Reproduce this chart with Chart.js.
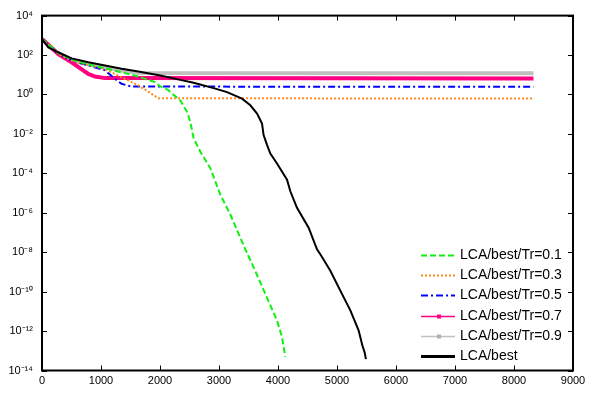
<!DOCTYPE html>
<html>
<head>
<meta charset="utf-8">
<script src="https://cdn.jsdelivr.net/npm/chart.js@4.4.1/dist/chart.umd.min.js"></script>
<style>
  html, body { margin: 0; padding: 0; background: #fff; }
  #wrap { width: 592px; height: 394px; }
</style>
</head>
<body>
<div id="wrap"><canvas id="myChart" width="592" height="394"></canvas></div>
<script>
// tick values
var xTicks = [0, 1000, 2000, 3000, 4000, 5000, 6000, 7000, 8000, 9000];
var yTickExps = [-14, -12, -10, -8, -6, -4, -2, 0, 2, 4];

// series labels
var labels = ['LCA/best/Tr=0.1', 'LCA/best/Tr=0.3', 'LCA/best/Tr=0.5', 'LCA/best/Tr=0.7', 'LCA/best/Tr=0.9', 'LCA/best'];

// iterations (x) and log10 of the error (y)
var tr01X = [0, 280, 502, 785, 1068, 1350, 1632, 1915, 2005, 2141, 2175, 2344, 2458, 2514, 2570, 2683, 2853, 3022, 3192, 3446, 3587, 3785, 3983, 4068, 4124];
var tr01Exp = [2.81, 2.10, 1.78, 1.52, 1.33, 1.12, 0.91, 0.63, 0.41, 0.22, 0.12, -0.30, -0.88, -1.39, -2.23, -2.90, -3.74, -5.08, -6.09, -7.85, -8.77, -10.11, -11.46, -12.30, -13.31];

var tr03X = [0, 280, 502, 785, 1068, 1344, 1632, 1853, 1971, 8330];
var tr03Exp = [2.81, 2.05, 1.72, 1.50, 1.28, 0.88, 0.46, 0.04, -0.19, -0.21];

var tr05X = [0, 280, 502, 785, 1068, 1237, 1349, 1519, 8330];
var tr05Exp = [2.81, 2.05, 1.72, 1.48, 1.22, 0.79, 0.54, 0.40, 0.39];

var tr07X = [0, 276, 502, 785, 898, 1068, 8330];
var tr07Exp = [2.81, 2.04, 1.63, 1.04, 0.91, 0.83, 0.81];

var tr09X = [0, 276, 502, 785, 1068, 1350, 1632, 8330];
var tr09Exp = [2.81, 2.08, 1.72, 1.52, 1.38, 1.22, 1.09, 1.08];

var bestX = [0, 107, 276, 502, 785, 1068, 1349, 1632, 2005, 2344, 2570, 2909, 3136, 3390, 3531, 3645, 3729, 3756, 3814, 3870, 3983, 4153, 4209, 4322, 4519, 4661, 4717, 4887, 5056, 5226, 5366, 5429, 5470, 5490];
var bestExp = [2.81, 2.39, 2.14, 1.83, 1.63, 1.47, 1.30, 1.17, 0.96, 0.74, 0.59, 0.32, 0.12, -0.21, -0.55, -0.97, -1.47, -2.06, -2.56, -3.00, -3.50, -4.32, -4.91, -5.75, -6.76, -7.85, -8.10, -8.94, -9.95, -10.95, -11.96, -12.72, -13.10, -13.42];

function pts(xs, es) {
    return xs.map(function (x, i) { return { x: x, y: Math.pow(10, es[i]) }; });
}

var sup = { '0': '\u2070', '1': '\u00b9', '2': '\u00b2', '3': '\u00b3', '4': '\u2074', '5': '\u2075', '6': '\u2076', '7': '\u2077', '8': '\u2078', '9': '\u2079', '-': '\u207b' };
function power(e) {
    return '10' + String(e).split('').map(function (c) { return sup[c]; }).join('');
}

Chart.defaults.font.family = '"Liberation Sans", Arial, sans-serif';
Chart.defaults.font.size = 11;
Chart.defaults.color = '#000';

// box with inward ticks, drawn from the chart's own scales
var boxTicks = {
    id: 'boxTicks',
    afterDatasetsDraw: function (chart) {
        var ctx = chart.ctx, a = chart.chartArea;
        var xs = chart.scales.x, ys = chart.scales.y;
        ctx.save();
        ctx.strokeStyle = '#000';
        ctx.lineWidth = 1;
        xTicks.forEach(function (t) {
            var px = Math.round(xs.getPixelForValue(t)) + 0.5;
            ctx.beginPath();
            ctx.moveTo(px, a.bottom); ctx.lineTo(px, a.bottom - 5);
            ctx.moveTo(px, a.top); ctx.lineTo(px, a.top + 5);
            ctx.stroke();
        });
        yTickExps.forEach(function (e) {
            var py = Math.round(ys.getPixelForValue(Math.pow(10, e))) + 0.5;
            ctx.beginPath();
            ctx.moveTo(a.left, py); ctx.lineTo(a.left + 5, py);
            ctx.moveTo(a.right, py); ctx.lineTo(a.right - 5, py);
            ctx.stroke();
        });
        ctx.lineWidth = 2;
        ctx.strokeRect(a.left, a.top, a.right - a.left, a.bottom - a.top);
        ctx.restore();
    }
};

// legend in the lower right corner, without a frame
var cornerLegend = {
    id: 'cornerLegend',
    afterDraw: function (chart) {
        var ctx = chart.ctx;
        var x0 = 421, x1 = 455, tx = 460, y0 = 255, dy = 20.2;
        ctx.save();
        ctx.font = '14px "Liberation Sans", Arial, sans-serif';
        ctx.textBaseline = 'middle';
        ctx.textAlign = 'left';
        chart.data.datasets.forEach(function (ds, i) {
            var y = Math.round(y0 + i * dy) + 0.5;
            ctx.strokeStyle = ds.borderColor;
            ctx.lineWidth = ds.legendWidth;
            ctx.setLineDash(ds.borderDash || []);
            ctx.beginPath();
            ctx.moveTo(x0, y); ctx.lineTo(x1, y);
            ctx.stroke();
            ctx.setLineDash([]);
            if (ds.legendMark) {
                ctx.fillStyle = ds.legendMark;
                ctx.fillRect(437, y - 2, 4, 4);
            }
            ctx.fillStyle = '#000';
            ctx.fillText(ds.label, tx, y);
        });
        ctx.restore();
    }
};

var ctx = document.getElementById('myChart').getContext('2d');
var chart = new Chart(ctx, {
    type: 'line',
    data: {
        datasets: [
            { label: labels[0], data: pts(tr01X, tr01Exp), borderColor: '#10f010', borderWidth: 2, borderDash: [6, 3], legendWidth: 2, order: 1 },
            { label: labels[1], data: pts(tr03X, tr03Exp), borderColor: '#ff8a1a', borderWidth: 2, borderDash: [2, 2], legendWidth: 2, order: 2 },
            { label: labels[2], data: pts(tr05X, tr05Exp), borderColor: '#0000ff', borderWidth: 2, borderDash: [7, 3, 2, 3], legendWidth: 2, order: 3 },
            { label: labels[3], data: pts(tr07X, tr07Exp), borderColor: '#ff0080', borderWidth: 4, legendWidth: 1.5, legendMark: '#ff0080', order: 4 },
            { label: labels[4], data: pts(tr09X, tr09Exp), borderColor: '#c0c0c0', borderWidth: 4, legendWidth: 1.5, legendMark: '#b0b0b0', order: 5 },
            { label: labels[5], data: pts(bestX, bestExp), borderColor: '#000000', borderWidth: 2, legendWidth: 3, order: 0 }
        ]
    },
    options: {
        responsive: false,
        animation: false,
        events: [],
        layout: { padding: { top: 13, right: 19, left: 0, bottom: 0 } },
        elements: { point: { radius: 0 }, line: { tension: 0, fill: false } },
        plugins: { legend: { display: false }, tooltip: { enabled: false } },
        scales: {
            x: {
                type: 'linear',
                min: 0,
                max: 9000,
                afterBuildTicks: function (s) { s.ticks = xTicks.map(function (v) { return { value: v }; }); },
                afterFit: function (s) { s.height = 23.5; },
                ticks: { padding: 4, maxRotation: 0, callback: function (v) { return String(v); } },
                grid: { display: false, drawTicks: false },
                border: { display: false }
            },
            y: {
                type: 'logarithmic',
                min: 1e-14,
                max: 1e4,
                afterBuildTicks: function (s) { s.ticks = yTickExps.map(function (e) { return { value: Math.pow(10, e) }; }); },
                afterFit: function (s) { s.width = 42; },
                ticks: { padding: 9, callback: function (v) { return power(Math.round(Math.log10(v))); } },
                grid: { display: false, drawTicks: false },
                border: { display: false }
            }
        }
    },
    plugins: [boxTicks, cornerLegend]
});
</script>
</body>
</html>
